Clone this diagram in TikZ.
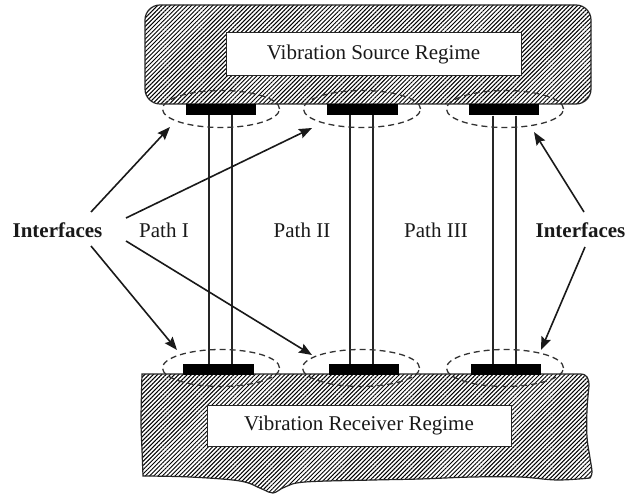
\documentclass[tikz,border=0pt]{standalone}
\usepackage{fontspec}
\setmainfont{Liberation Serif}
\usetikzlibrary{patterns.meta,arrows.meta,shapes.geometric}
\begin{document}
\begin{tikzpicture}[x=1pt,y=-1pt,
 hatch/.style={pattern={Lines[angle=45,distance=3pt,line width=1pt]}, draw=black!85, line width=1.2pt},
 regbox/.style={draw=black!85, fill=white, line width=1pt, inner sep=0pt, font=\fontsize{21}{25}\selectfont, text=black!90},
 pad/.style={fill=black, inner sep=0pt, minimum height=11pt},
 iface/.style={draw=black!80, dash pattern=on 6pt off 4pt, line width=1.3pt, ellipse, minimum width=117pt, minimum height=37pt, inner sep=0pt},
 lbl/.style={font=\fontsize{21}{25}\selectfont, text=black!90, inner sep=0pt},
 arr/.style={-{Stealth[length=13pt,width=10pt,inset=2pt]}, line width=1.6pt, draw=black!90},
 rod/.style={line width=1.4pt, draw=black!85}]
\useasboundingbox (0,0) rectangle (626,494);

% source regime
\draw[hatch, rounded corners=15pt] (145,5) rectangle (591,104);
\node[regbox, minimum width=295pt, minimum height=43pt] (src) at (373.5,54.5) {Vibration Source Regime};

% receiver regime
\draw[hatch] (142,374) -- (580,374) .. controls (587,374) and (589,378) .. (589,386)
  -- plot[smooth,tension=0.6] coordinates {(589,386) (587,410) (587,437) (590,458) (592,472) (590,478)}
  -- plot[smooth,tension=0.6] coordinates {(590,478) (557,480) (520,477) (473,477) (420,479) (373,480) (305,482) (285,487) (273,493) (262,489) (240,481) (190,477) (143,476)}
  -- plot[smooth,tension=0.6] coordinates {(143,476) (142,450) (141,420) (142,374)} -- cycle;
\node[regbox, minimum width=304pt, minimum height=41pt] (rcv) at (359,425.5) {Vibration Receiver Regime};

% pads
\node[pad, minimum width=70pt] (p1t) at (221,109.5) {};
\node[pad, minimum width=71pt] (p2t) at (362.5,109.5) {};
\node[pad, minimum width=70pt] (p3t) at (504,110) {};
\node[pad, minimum width=71pt] (p1b) at (218.5,369.5) {};
\node[pad, minimum width=70pt] (p2b) at (364,369.5) {};
\node[pad, minimum width=70pt] (p3b) at (506,369.5) {};

% rods
\coordinate (x1a) at (209,0); \coordinate (x1b) at (232,0);
\coordinate (x2a) at (350,0); \coordinate (x2b) at (373,0);
\coordinate (x3a) at (493,0); \coordinate (x3b) at (516,0);
\draw[rod] (x1a |- p1t.south) -- (x1a |- p1b.north);
\draw[rod] (x1b |- p1t.south) -- (x1b |- p1b.north);
\draw[rod] (x2a |- p2t.south) -- (x2a |- p2b.north);
\draw[rod] (x2b |- p2t.south) -- (x2b |- p2b.north);
\draw[rod] (x3a |- p3t.south) -- (x3a |- p3b.north);
\draw[rod] (x3b |- p3t.south) -- (x3b |- p3b.north);

% interface ellipses
\node[iface] (e1t) at (221,109) {};
\node[iface] (e2t) at (362,109) {};
\node[iface] (e3t) at (505,109) {};
\node[iface] (e1b) at (221,368) {};
\node[iface] (e2b) at (361,368) {};
\node[iface] (e3b) at (505,368) {};

% labels
\node[lbl, font=\fontsize{21}{25}\selectfont\bfseries] (il) at (57.5,230) {Interfaces};
\node[lbl, font=\fontsize{21}{25}\selectfont\bfseries] (ir) at (580.5,230) {Interfaces};
\node[lbl] (pa) at (164,230) {Path I};
\node[lbl] (pb) at (302,230) {Path II};
\node[lbl] (pc) at (436,230) {Path III};

% arrows
\coordinate (s1) at (91,212);  \coordinate (t1) at (170,127);
\coordinate (s2) at (126,218); \coordinate (t2) at (312,128);
\coordinate (s3) at (91,246);  \coordinate (t3) at (177,350);
\coordinate (s4) at (126,241); \coordinate (t4) at (312,355);
\coordinate (s5) at (584,212); \coordinate (t5) at (534,132);
\coordinate (s6) at (585,247); \coordinate (t6) at (541,350);
\draw[arr] (s1) -- (t1);
\draw[arr] (s2) -- (t2);
\draw[arr] (s3) -- (t3);
\draw[arr] (s4) -- (t4);
\draw[arr] (s5) -- (t5);
\draw[arr] (s6) -- (t6);
\end{tikzpicture}
\end{document}
